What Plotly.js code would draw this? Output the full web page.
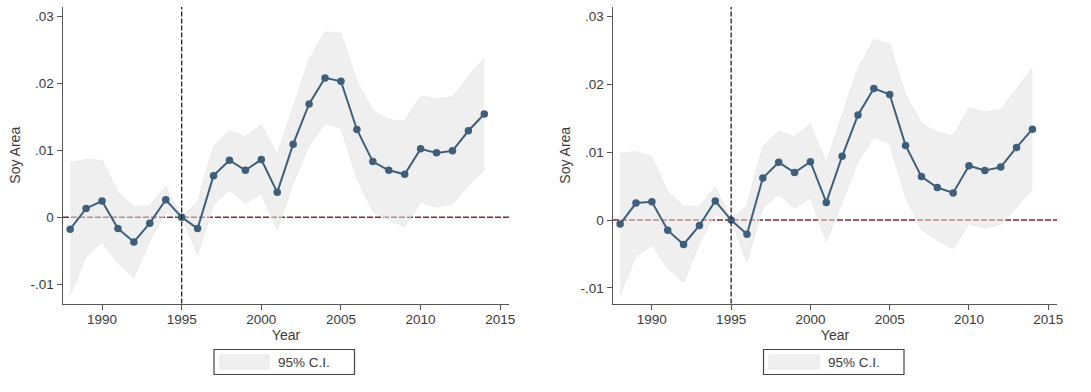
<!DOCTYPE html>
<html><head><meta charset="utf-8">
<script src="https://cdn.plot.ly/plotly-3.0.1.min.js"></script>
<style>html,body{margin:0;padding:0;background:#fff;}#chart{width:1091px;height:392px;}</style>
</head><body><div id="chart"></div>
<script>
const years = [1988,1989,1990,1991,1992,1993,1994,1995,1996,1997,1998,1999,2000,2001,2002,2003,2004,2005,2006,2007,2008,2009,2010,2011,2012,2013,2014];

const leftCoef  = [-0.0018,0.0013,0.0024,-0.0017,-0.0037,-0.0009,0.0026,0,-0.0017,0.0062,0.0085,0.0070,0.0086,0.0037,0.0109,0.0169,0.0208,0.0203,0.0131,0.0083,0.0070,0.0064,0.0102,0.0096,0.0099,0.0129,0.0154];
const leftUpper = [0.0081,0.0086,0.0085,0.0037,0.0016,0.0017,0.0046,0,0.0023,0.0105,0.0129,0.0120,0.0138,0.0093,0.0165,0.0235,0.0277,0.0275,0.0203,0.0159,0.0146,0.0143,0.0181,0.0177,0.0179,0.0210,0.0238];
const leftLower = [-0.0116,-0.0059,-0.0037,-0.0069,-0.0090,-0.0036,0.0007,0,-0.0056,0.0019,0.0041,0.0021,0.0035,-0.0019,0.0051,0.0107,0.0140,0.0133,0.0058,0.0008,-0.0004,-0.0014,0.0022,0.0015,0.0020,0.0047,0.0071];

const rightCoef  = [-0.0006,0.0025,0.0027,-0.0015,-0.0036,-0.0008,0.0028,0,-0.0021,0.0062,0.0085,0.0070,0.0086,0.0026,0.0094,0.0155,0.0194,0.0185,0.0110,0.0064,0.0048,0.0040,0.0080,0.0073,0.0078,0.0107,0.0134];
const rightUpper = [0.0098,0.0101,0.0093,0.0042,0.0020,0.0020,0.0049,0,0.0022,0.0108,0.0131,0.0123,0.0141,0.0084,0.0155,0.0224,0.0266,0.0259,0.0185,0.0143,0.0129,0.0124,0.0165,0.0159,0.0163,0.0194,0.0224];
const rightLower = [-0.0111,-0.0053,-0.0037,-0.0071,-0.0092,-0.0034,0.0008,0,-0.0062,0.0018,0.0038,0.0017,0.0033,-0.0032,0.0027,0.0086,0.0123,0.0112,0.0034,-0.0014,-0.0030,-0.0042,-0.0005,-0.0012,-0.0007,0.0020,0.0046];

const yTickVals = [-0.01,0,0.01,0.02,0.03];
const yTickText = ['-.01','0','.01','.02','.03'];
const xTickVals = [1990,1995,2000,2005,2010,2015];
const yTitle = 'Soy Area';
const xTitle = 'Year';
const legendText = '95% C.I.';
const eventYear = 1995;

const lineColor = '#3e5f7b';
const ciFill = 'rgba(226,226,226,0.55)';
const ciEdge = 'rgba(232,232,232,0.9)';
const tickFont = {family:'Liberation Sans, Arial, sans-serif', size:13.5, color:'#3a3a3a'};
const titleFont = {family:'Liberation Sans, Arial, sans-serif', size:14, color:'#3a3a3a'};

function panel(xa, ya, coef, up, lo) {
  return [
    {x: years, y: lo, xaxis:xa, yaxis:ya, mode:'lines', line:{color:ciEdge, width:1}, hoverinfo:'skip', showlegend:false},
    {x: years, y: up, xaxis:xa, yaxis:ya, mode:'lines', fill:'tonexty', fillcolor:ciFill, line:{color:ciEdge, width:1}, hoverinfo:'skip', showlegend:false},
    {x: years, y: coef, xaxis:xa, yaxis:ya, mode:'lines+markers', line:{color:lineColor, width:2}, marker:{color:lineColor, size:7.5}, showlegend:false}
  ];
}

const data = [].concat(
  panel('x','y', leftCoef, leftUpper, leftLower),
  panel('x2','y2', rightCoef, rightUpper, rightLower)
);

function xaxis(domain, anchor) {
  return {domain:domain, anchor:anchor, range:[1987.55,2015.55], tickvals:xTickVals, ticks:'outside', ticklen:5, tickcolor:'#555',
    showline:true, linecolor:'#555', linewidth:1.5, showgrid:false, zeroline:false, tickfont:tickFont, ticklabelstandoff:-2,
    title:{text:xTitle, font:titleFont, standoff:0}};
}
function yaxis(domain, anchor, range) {
  return {domain:domain, anchor:anchor, range:range, tickvals:yTickVals, ticktext:yTickText, ticks:'outside', ticklen:5, tickcolor:'#555',
    showline:true, linecolor:'#555', linewidth:1.5, showgrid:false, zeroline:false, tickfont:tickFont,
    title:{text:yTitle, font:titleFont, standoff:6}};
}

const yDom = [1-303.5/392, 1-7/392];
const layout = {
  width:1091, height:392, margin:{l:0,r:0,t:0,b:0}, paper_bgcolor:'#fff', plot_bgcolor:'#fff', showlegend:false,
  xaxis: xaxis([63/1091, 509/1091], 'y'),
  yaxis: yaxis(yDom, 'x', [-0.0129, 0.03139]),
  xaxis2: xaxis([613/1091, 1057/1091], 'y2'),
  yaxis2: yaxis(yDom, 'x2', [-0.0123, 0.0314]),
  shapes: [
    {type:'line', xref:'x domain', yref:'y', x0:0, x1:1, y0:0, y1:0, line:{color:'#8b2525', width:1.5, dash:'6px,2px'}, layer:'below'},
    {type:'line', xref:'x', yref:'y domain', x0:eventYear, x1:eventYear, y0:0, y1:1, line:{color:'#222', width:1.3, dash:'5px,2px'}, layer:'above'},
    {type:'line', xref:'x2 domain', yref:'y2', x0:0, x1:1, y0:0, y1:0, line:{color:'#8b2525', width:1.5, dash:'6px,2px'}, layer:'below'},
    {type:'line', xref:'x2', yref:'y2 domain', x0:eventYear, x1:eventYear, y0:0, y1:1, line:{color:'#222', width:1.3, dash:'5px,2px'}, layer:'above'},
    {type:'rect', xref:'paper', yref:'paper', x0:214/1091, x1:354.5/1091, y0:1-374.5/392, y1:1-349.5/392, line:{color:'#444', width:1.2}, fillcolor:'#fff'},
    {type:'rect', xref:'paper', yref:'paper', x0:220/1091, x1:269/1091, y0:1-369/392, y1:1-355/392, line:{color:'#e8e8e8', width:1}, fillcolor:'#efefef'},
    {type:'rect', xref:'paper', yref:'paper', x0:763.5/1091, x1:904/1091, y0:1-374.5/392, y1:1-349.5/392, line:{color:'#444', width:1.2}, fillcolor:'#fff'},
    {type:'rect', xref:'paper', yref:'paper', x0:769/1091, x1:819/1091, y0:1-369/392, y1:1-355/392, line:{color:'#e8e8e8', width:1}, fillcolor:'#efefef'}
  ],
  annotations: [
    {xref:'paper', yref:'paper', x:276/1091, y:1-362/392, xanchor:'left', yanchor:'middle', text:legendText, showarrow:false, font:tickFont},
    {xref:'paper', yref:'paper', x:825.5/1091, y:1-362/392, xanchor:'left', yanchor:'middle', text:legendText, showarrow:false, font:tickFont}
  ]
};

Plotly.newPlot('chart', data, layout, {staticPlot:true, displayModeBar:false});
</script>
</body></html>
